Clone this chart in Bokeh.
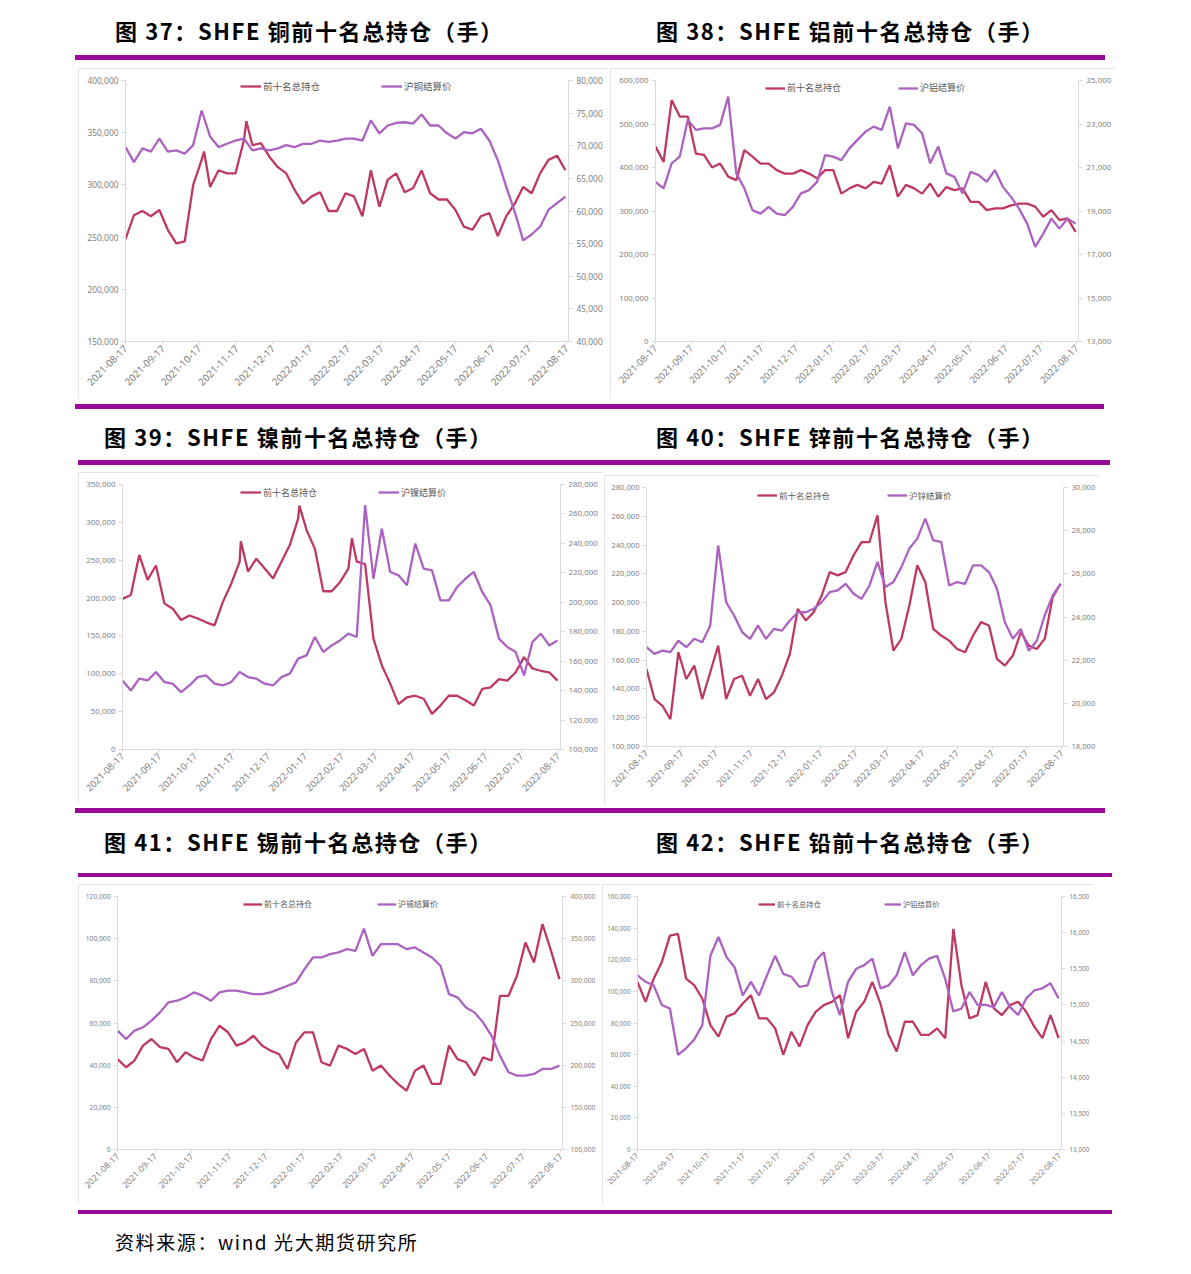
import math
import pandas as pd
from bokeh.plotting import figure
from bokeh.models import (Range1d, LinearAxis, FixedTicker, NumeralTickFormatter,
                          DatetimeTickFormatter, Legend, LegendItem, Div, Spacer, ColumnDataSource)
from bokeh.layouts import column, row
from bokeh.embed import file_html
from bokeh.resources import INLINE

# ---------------- data ----------------
date_labels = ["2021-08-17", "2021-09-17", "2021-10-17", "2021-11-17", "2021-12-17",
               "2022-01-17", "2022-02-17", "2022-03-17", "2022-04-17", "2022-05-17",
               "2022-06-17", "2022-07-17", "2022-08-17"]
obs_dates = pd.date_range("2021-08-17", periods=53, freq="7D")

oi_label = "前十名总持仓"

cu_top10 = [248000, 271000, 275000, 270000, 276000, 257000, 244000, 246000, 300000, 324000,
            298000, 314000, 311000, 311000, 343000, 338000, 340000, 327000, 317000, 311000,
            295000, 282000, 289000, 293000, 275000, 275000, 292000, 289000, 270000, 314000,
            279000, 305000, 311000, 293000, 297000, 314000, 292000, 286000, 286000, 276000,
            260000, 257000, 270000, 273000, 251000, 270000, 282000, 298000, 292000, 311000,
            324000, 328000, 314000]
# spikes read between the weekly observations
cu_top10_spike_dates = ["2021-10-21", "2021-11-25"]
cu_top10_spikes = [332000, 361000]
cu_price = [69800, 67500, 69600, 69100, 71100, 69100, 69300, 68800, 70100, 75400,
            71400, 69800, 70300, 70800, 71100, 69300, 69600, 69300, 69600, 70100,
            69800, 70300, 70300, 70800, 70600, 70800, 71100, 71100, 70800, 73900,
            71900, 73100, 73500, 73600, 73400, 74800, 73100, 73100, 71900, 71100,
            72100, 71900, 72600, 70800, 67800, 63700, 59900, 55500, 56400, 57600,
            60200, 61200, 62200]

al_top10 = [448000, 413000, 555000, 517000, 517000, 432000, 429000, 400000, 409000, 379000,
            371000, 440000, 425000, 409000, 409000, 394000, 386000, 386000, 394000, 386000,
            375000, 394000, 394000, 340000, 352000, 360000, 352000, 367000, 363000, 405000,
            333000, 360000, 352000, 340000, 363000, 333000, 355000, 348000, 352000, 321000,
            321000, 302000, 306000, 306000, 313000, 317000, 317000, 310000, 287000, 302000,
            279000, 283000, 252000]
al_price = [20340, 20040, 21190, 21500, 23190, 22730, 22800, 22800, 22960, 24260,
            20730, 20040, 19040, 18880, 19190, 18880, 18810, 19190, 19810, 19960,
            20340, 21570, 21500, 21340, 21880, 22270, 22650, 22880, 22730, 23800,
            21880, 23030, 22960, 22570, 21190, 21960, 20730, 20570, 19810, 20800,
            20650, 20340, 20880, 20110, 19650, 19110, 18420, 17350, 17960, 18650,
            18190, 18650, 18420]

ni_top10 = [199000, 204000, 257000, 224000, 243000, 193000, 186000, 171000, 177000, 173000,
            168000, 164000, 195000, 219000, 248000, 235000, 252000, 239000, 226000, 248000,
            270000, 305000, 290000, 265000, 209000, 209000, 221000, 239000, 248000, 245000,
            146000, 111000, 87000, 60000, 69000, 71000, 67000, 47000, 58000, 71000,
            71000, 65000, 58000, 80000, 82000, 93000, 91000, 102000, 122000, 107000,
            104000, 102000, 91000]
ni_top10_spike_dates = ["2021-11-24", "2022-01-12", "2022-02-25"]
ni_top10_spikes = [275000, 322000, 279000]
ni_price = [146900, 140100, 148100, 146900, 152600, 145800, 144700, 139000, 143500, 149200,
            150300, 144700, 143500, 145800, 152600, 149200, 148100, 144700, 143500, 149200,
            151500, 161700, 163900, 176400, 166200, 170700, 174100, 178700, 176400, 266000,
            216000, 250000, 220600, 218300, 211500, 239900, 222900, 221700, 201300, 201300,
            210400, 216000, 220600, 207000, 197900, 175300, 169600, 166200, 150300, 173000,
            178700, 170700, 174100]

zn_top10 = [153900, 133000, 128300, 119000, 165500, 146900, 156200, 133000, 151600, 170100,
            133000, 146900, 149200, 135300, 146900, 133000, 137600, 149200, 164300, 195700,
            187600, 193400, 205000, 221200, 218900, 221200, 232900, 242100, 242100, 260700,
            200300, 166700, 174800, 198000, 225900, 214300, 181800, 177100, 173600, 167800,
            165500, 177100, 186400, 184100, 160900, 156200, 163200, 179400, 170100, 167800,
            174800, 203800, 213100]
zn_price = [22600, 22290, 22440, 22370, 22900, 22600, 22990, 22830, 23600, 27320,
            24690, 24070, 23300, 22990, 23600, 22990, 23450, 23370, 23840, 24220,
            24220, 24380, 24690, 25150, 25230, 25540, 25080, 24840, 25460, 26550,
            25390, 25620, 26310, 27170, 27630, 28560, 27550, 27480, 25460, 25620,
            25540, 26390, 26390, 26080, 25310, 23760, 22990, 23450, 22440, 22900,
            24070, 25000, 25540]

sn_top10 = [42900, 39000, 42200, 49300, 52400, 48500, 47700, 41400, 46100, 43700,
            42200, 52400, 58700, 55600, 49300, 50800, 54000, 49300, 46900, 45300,
            38200, 50800, 55600, 55600, 41400, 39800, 49300, 47700, 45300, 47700,
            37400, 39800, 35100, 31100, 27900, 37400, 39800, 31100, 31100, 49300,
            42900, 41400, 35100, 43700, 42200, 72900, 72900, 82400, 98200, 88700,
            106900, 94300, 80800]
sn_price = [240900, 231000, 240900, 244900, 252800, 262600, 274500, 276400, 280400, 286300,
            282400, 276400, 286300, 288300, 288300, 286300, 284300, 284300, 286300, 290200,
            294200, 298100, 313900, 327700, 327700, 331700, 333700, 337600, 335600, 362000,
            329700, 343500, 343500, 343500, 337600, 339600, 333700, 327700, 317900, 284300,
            280400, 268500, 262600, 250800, 235000, 211300, 191600, 187600, 187600, 189600,
            195500, 195500, 199500]

pb_top10 = [106000, 93400, 108000, 118500, 135300, 136300, 108000, 103900, 95500, 78700,
            71400, 84000, 86100, 92300, 97600, 82900, 82900, 76600, 59900, 74500,
            65100, 78700, 87100, 91300, 93400, 97600, 70400, 87100, 93400, 106000,
            92300, 72500, 62000, 80800, 80800, 72500, 72500, 76600, 70400, 139500,
            103900, 82900, 85000, 106000, 89200, 85000, 91300, 93400, 87100, 77700,
            70400, 85000, 70400]
pb_price = [15410, 15320, 15270, 15000, 14950, 14310, 14400, 14520, 14720, 15680,
            15940, 15660, 15520, 15130, 15320, 15130, 15410, 15680, 15430, 15390,
            15250, 15270, 15610, 15730, 15180, 14860, 15320, 15500, 15550, 15640,
            15230, 15270, 15410, 15730, 15410, 15550, 15640, 15680, 15360, 14910,
            14950, 15180, 15000, 15000, 14970, 15180, 14970, 14860, 15090, 15200,
            15230, 15300, 15090]

titles = ["图 37：SHFE 铜前十名总持仓（手）", "图 38：SHFE 铝前十名总持仓（手）",
          "图 39：SHFE 镍前十名总持仓（手）", "图 40：SHFE 锌前十名总持仓（手）",
          "图 41：SHFE 锡前十名总持仓（手）", "图 42：SHFE 铅前十名总持仓（手）"]
source_note = "资料来源：wind 光大期货研究所"

# ---------------- style ----------------
RED = "#be3962"
PURPLE = "#ab62c0"
AXIS = "#d9d9d9"
LABEL = "#808080"
BAR = "#9a0a98"

tick_ms = [pd.Timestamp(d).value // 10**6 for d in date_labels]
dfmt = "%Y-%m-%d"


def series_frame(values, extra_dates=(), extra_values=()):
    s = pd.Series(list(values), index=obs_dates)
    if extra_dates:
        s = pd.concat([s, pd.Series(list(extra_values), index=pd.to_datetime(list(extra_dates)))])
        s = s.sort_index()
    return ColumnDataSource(dict(date=s.index, v=s.values))


def style_axis(ax, fs, standoff=3, tick_out=4):
    ax.axis_line_color = AXIS
    ax.major_tick_line_color = AXIS
    ax.minor_tick_line_color = None
    ax.major_tick_out = tick_out
    ax.major_tick_in = 0
    ax.major_label_text_color = LABEL
    ax.major_label_text_font = "Noto Sans"
    ax.major_label_text_font_size = f"{fs}px"
    ax.major_label_standoff = standoff


def make_panel(box, borders, oi_src, px_src, px_name, lrange, lstep, rrange, rstep,
               fs_y, fs_x, fs_leg, leg_x, leg_y, glyph_w):
    bx, by, bw, bh = box
    ml, mr, mt, mb = borders
    fx, fy = bx + ml, by + mt
    fh = bh - mt - mb
    x0 = pd.Timestamp(date_labels[0]).to_pydatetime()
    x1 = (pd.Timestamp(date_labels[-1]) + pd.Timedelta(hours=36)).to_pydatetime()
    p = figure(width=bw, height=bh, x_axis_type="datetime", x_range=Range1d(x0, x1),
               y_range=Range1d(*lrange), output_backend="svg", toolbar_location=None,
               min_border_left=ml, min_border_right=mr, min_border_top=mt,
               min_border_bottom=mb, margin=0)
    p.extra_y_ranges = {"right": Range1d(*rrange)}
    p.outline_line_color = None
    p.xgrid.visible = False
    p.ygrid.visible = False
    p.background_fill_color = "white"
    p.border_fill_color = "white"
    p.styles = {"outline": "1px solid #dcdcdc", "outline-offset": "-1px"}

    yl = p.yaxis[0]
    yl.ticker = FixedTicker(ticks=list(range(lrange[0], lrange[1] + 1, lstep)))
    yl.formatter = NumeralTickFormatter(format="0,0")
    style_axis(yl, fs_y)

    yr = LinearAxis(y_range_name="right",
                    ticker=FixedTicker(ticks=list(range(rrange[0], rrange[1] + 1, rstep))),
                    formatter=NumeralTickFormatter(format="0,0"))
    style_axis(yr, fs_y, standoff=4)
    p.add_layout(yr, "right")

    xa = p.xaxis[0]
    xa.ticker = FixedTicker(ticks=tick_ms)
    xa.formatter = DatetimeTickFormatter(milliseconds=dfmt, seconds=dfmt, minsec=dfmt,
                                         minutes=dfmt, hourmin=dfmt, hours=dfmt,
                                         days=dfmt, months=dfmt, years=dfmt)
    xa.major_label_orientation = math.pi / 4
    style_axis(xa, fs_x, standoff=2, tick_out=3)

    r1 = p.line("date", "v", source=oi_src, color=RED, line_width=2.3)
    r2 = p.line("date", "v", source=px_src, color=PURPLE, line_width=2.3, y_range_name="right")

    for rnd, lab, lx in [(r1, oi_label, leg_x[0]), (r2, px_name, leg_x[1])]:
        leg = Legend(items=[LegendItem(label=lab, renderers=[rnd])],
                     location=(lx - fx, fh - (leg_y - fy) - 5),
                     orientation="horizontal", padding=0, margin=0, spacing=0,
                     border_line_color=None, background_fill_alpha=0,
                     glyph_width=glyph_w, glyph_height=10, label_height=10,
                     label_standoff=2, label_text_font="Noto Sans CJK SC",
                     label_text_font_size=f"{fs_leg}px", label_text_color="#595959")
        p.add_layout(leg)
    return p


p1 = make_panel((78, 68, 530, 330), (47, 40, 12, 56),
                series_frame(cu_top10, cu_top10_spike_dates, cu_top10_spikes),
                series_frame(cu_price), "沪铜结算价",
                (150000, 400000), 50000, (40000, 80000), 5000,
                8.4, 10, 9.5, (240, 381), 89, 21)
p2 = make_panel((610, 68, 506, 330), (45, 38, 12, 57),
                series_frame(al_top10), series_frame(al_price), "沪铝结算价",
                (0, 600000), 100000, (13000, 25000), 2000,
                7.9, 9.5, 9, (765, 898), 89, 20)
p3 = make_panel((78, 472, 524, 333), (44, 42, 12, 56),
                series_frame(ni_top10, ni_top10_spike_dates, ni_top10_spikes),
                series_frame(ni_price), "沪镍结算价",
                (0, 350000), 50000, (100000, 280000), 20000,
                7.9, 9.5, 9, (240, 378), 493.5, 21)
p4 = make_panel((604, 475, 495, 330), (42, 36, 12, 59),
                series_frame(zn_top10), series_frame(zn_price), "沪锌结算价",
                (100000, 280000), 20000, (18000, 30000), 2000,
                7.6, 9, 8.5, (757, 887), 495.5, 20)
p5 = make_panel((78, 884, 522, 321), (39, 38, 12, 56),
                series_frame(sn_top10), series_frame(sn_price), "沪锡结算价",
                (0, 120000), 20000, (100000, 400000), 50000,
                6.7, 8.6, 8, (243, 377), 904, 19)
p6 = make_panel((602, 884, 491, 321), (35, 32, 12, 55),
                series_frame(pb_top10), series_frame(pb_price), "沪铅结算价",
                (0, 160000), 20000, (13000, 16500), 500,
                6.3, 7.8, 7.3, (758, 884), 905, 17)

PAGE_W = 1120


def band(top, height, bars, texts):
    html = [f'<div style="position:relative;width:{PAGE_W}px;height:{height}px;">']
    for x0, x1, y0, y1 in bars:
        html.append(f'<div style="position:absolute;left:{x0}px;top:{y0 - top}px;'
                    f'width:{x1 - x0}px;height:{y1 - y0}px;background:{BAR};"></div>')
    for x, yc, txt, fs, wt, ls in texts:
        html.append(f'<div style="position:absolute;left:{x}px;top:{yc - top - fs / 2}px;'
                    f"font-family:'Noto Sans CJK SC';font-size:{fs}px;font-weight:{wt};"
                    f'letter-spacing:{ls}px;line-height:{fs}px;white-space:nowrap;color:#000;">'
                    f'{txt}</div>')
    html.append('</div>')
    return Div(text="".join(html), width=PAGE_W, height=height, margin=0)


h1 = band(0, 68, [(75, 1105, 55, 60)],
          [(115, 30, titles[0], 22, "bold", 1.6), (656, 30, titles[1], 22, "bold", 1.6)])
h2 = band(398, 74, [(75, 1104, 404, 409), (78, 1110, 460, 465)],
          [(104, 436, titles[2], 22, "bold", 1.6), (656, 436, titles[3], 22, "bold", 1.6)])
h3 = band(805, 79, [(75, 1105, 808, 813), (78, 1112, 873, 877)],
          [(104, 841, titles[4], 22, "bold", 1.6), (656, 841, titles[5], 22, "bold", 1.6)])
ft = band(1205, 61, [(78, 1112, 1210, 1214)],
          [(115, 1241, source_note, 19, "normal", 1.6)])

row1 = row(Spacer(width=78, height=330), p1, Spacer(width=2, height=330), p2)
row2 = row(Spacer(width=78, height=333), p3, Spacer(width=2, height=333),
           column(Spacer(width=495, height=3), p4))
row3 = row(Spacer(width=78, height=321), p5, Spacer(width=2, height=321), p6)

layout = column(h1, row1, h2, row2, h3, row3, ft)

open("out.html", "w").write(file_html(layout, INLINE, "SHFE"))
